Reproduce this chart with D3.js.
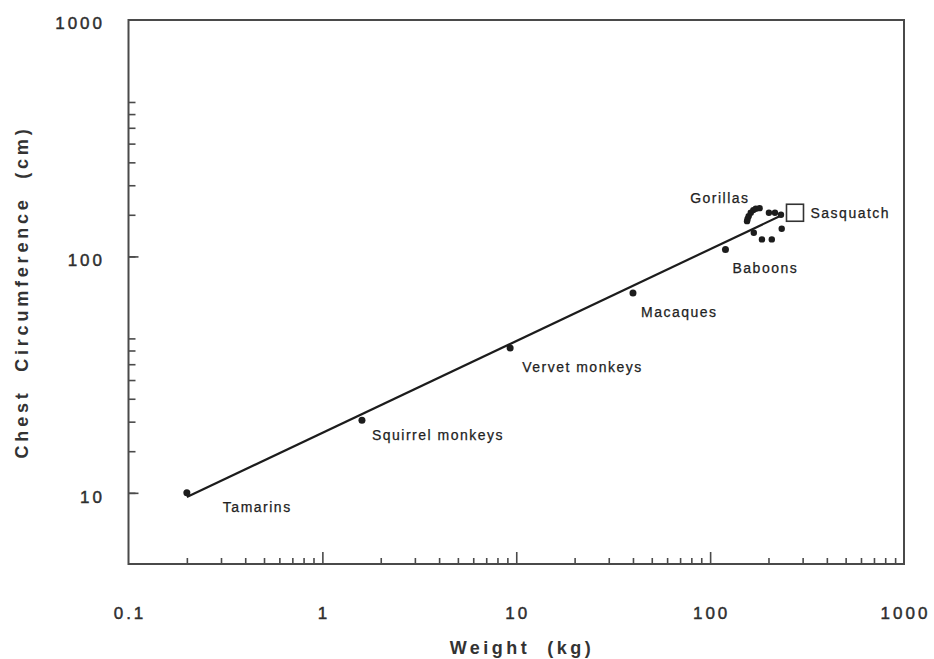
<!DOCTYPE html>
<html>
<head>
<meta charset="utf-8">
<script src="https://cdn.jsdelivr.net/npm/d3@7"></script>
<style>
  html, body { margin: 0; padding: 0; background: #fff; }
  svg { display: block; font-family: "Liberation Sans", Arial, Helvetica, sans-serif; }
</style>
</head>
<body>
<svg id="chart" width="934" height="659"></svg>
<script>
// Primate body weight (kg) vs. chest circumference (cm), log-log
const species = ["Tamarins", "Squirrel monkeys", "Vervet monkeys", "Macaques", "Baboons"];
const speciesWeight = [0.2, 1.6, 9.3, 40, 120];
const speciesChest = [10, 20.3, 41, 70, 107];

// individual gorilla measurements
const gorillaWeight = [155, 156, 158, 162, 167, 172, 180, 201, 216, 232, 234, 208, 185, 168];
const gorillaChest = [141, 144, 148, 153, 157, 159, 160, 153, 153, 150, 131, 118, 118, 126];

// estimated sasquatch
const sasquatchWeight = [274];
const sasquatchChest = [153];

// fitted allometric line (end points)
const fitWeight = [0.2, 237];
const fitChest = [9.6, 150];

const xTickValues = [0.1, 1, 10, 100, 1000];
const xTickLabels = ["0.1", "1", "10", "100", "1000"];
const yTickValues = [10, 100, 1000];
const yTickLabels = ["10", "100", "1000"];

// label placement relative to each point (px)
const speciesLabelOffset = [[36, 14], [10, 15], [12, 19], [8, 19], [7, 19]];

const svg = d3.select("#chart");
const plot = { left: 128.5, right: 904, top: 20, bottom: 564 };

const x = d3.scaleLog().domain([0.1, 1000]).range([plot.left, plot.right]);
const y = d3.scaleLog().domain([5, 1000]).range([plot.bottom, plot.top]);

const axisColor = "#4a4a4a";
const ink = "#1c1c1c";

// minor ticks for each decade
function minorTicks(lo, hi) {
  const out = [];
  for (let d = lo; d < hi; d *= 10) {
    for (let k = 2; k <= 9; k++) {
      const v = d * k;
      if (v > lo && v < hi) out.push(v);
    }
  }
  return out;
}

// bottom axis: ticks point inward (up)
const xAxisMinor = d3.axisBottom(x).tickValues(minorTicks(0.1, 1000).filter(v => v >= 0.2))
  .tickSizeInner(-6).tickSizeOuter(0).tickFormat("");
const xAxisMajor = d3.axisBottom(x).tickValues([1, 10, 100])
  .tickSizeInner(-12).tickSizeOuter(0).tickFormat("");

const gx1 = svg.append("g").attr("transform", `translate(0,${plot.bottom})`).call(xAxisMinor);
const gx2 = svg.append("g").attr("transform", `translate(0,${plot.bottom})`).call(xAxisMajor);

// left axis: ticks point inward (right)
const yAxisMinor = d3.axisLeft(y).tickValues(minorTicks(5, 1000).filter(v => v >= 6))
  .tickSizeInner(-7).tickSizeOuter(0).tickFormat("");
const yAxisMajor = d3.axisLeft(y).tickValues([10, 100])
  .tickSizeInner(-10).tickSizeOuter(0).tickFormat("");

const gy1 = svg.append("g").attr("transform", `translate(${plot.left},0)`).call(yAxisMinor);
const gy2 = svg.append("g").attr("transform", `translate(${plot.left},0)`).call(yAxisMajor);

[gx1, gx2, gy1, gy2].forEach(g => {
  g.select(".domain").remove();
  g.selectAll(".tick line").attr("stroke", axisColor).attr("stroke-width", 1.6);
});

// plot frame
svg.append("rect")
  .attr("x", plot.left).attr("y", plot.top)
  .attr("width", plot.right - plot.left).attr("height", plot.bottom - plot.top)
  .attr("fill", "none").attr("stroke", axisColor).attr("stroke-width", 2);

// tick labels
const tickFont = 17, tickSpacing = 3;
const tickStyle = (sel) => sel
  .attr("font-size", tickFont)
  .attr("letter-spacing", tickSpacing)
  .attr("fill", "#2e2e2e")
  .attr("stroke", "#2e2e2e")
  .attr("stroke-width", 0.45);

svg.append("g").selectAll("text")
  .data(xTickValues)
  .join("text")
  .attr("x", (d) => x(d) + tickSpacing / 2)
  .attr("y", 613)
  .attr("dy", "0.35em")
  .attr("text-anchor", "middle")
  .call(tickStyle)
  .text((d, i) => xTickLabels[i]);

svg.append("g").selectAll("text")
  .data(yTickValues)
  .join("text")
  .attr("x", 102 + tickSpacing)
  .attr("y", (d) => y(d) + (d === 1000 ? 3 : 4))
  .attr("dy", "0.35em")
  .attr("text-anchor", "end")
  .call(tickStyle)
  .text((d, i) => yTickLabels[i]);

// axis titles
svg.append("text")
  .attr("x", 520 + 2).attr("y", 648).attr("dy", "0.35em")
  .attr("text-anchor", "middle")
  .attr("font-size", 18).attr("font-weight", "bold")
  .attr("letter-spacing", 3.5)
  .attr("fill", "#333")
  .attr("xml:space", "preserve")
  .text("Weight  (kg)");

svg.append("text")
  .attr("transform", "translate(22,294) rotate(-90)")
  .attr("x", 2).attr("dy", "0.35em")
  .attr("text-anchor", "middle")
  .attr("font-size", 18).attr("font-weight", "bold")
  .attr("letter-spacing", 3.8)
  .attr("fill", "#333")
  .attr("xml:space", "preserve")
  .text("Chest  Circumference  (cm)");

// fitted line
const line = d3.line().x(d => x(d[0])).y(d => y(d[1]));
svg.append("path")
  .datum(d3.zip(fitWeight, fitChest))
  .attr("d", line)
  .attr("fill", "none")
  .attr("stroke", ink)
  .attr("stroke-width", 2.2);

// species means
svg.append("g").selectAll("circle")
  .data(d3.zip(speciesWeight, speciesChest))
  .join("circle")
  .attr("cx", d => x(d[0]))
  .attr("cy", d => y(d[1]))
  .attr("r", 3.5)
  .attr("fill", ink);

// gorillas
svg.append("g").selectAll("circle")
  .data(d3.zip(gorillaWeight, gorillaChest))
  .join("circle")
  .attr("cx", d => x(d[0]))
  .attr("cy", d => y(d[1]))
  .attr("r", 3.2)
  .attr("fill", ink);

// sasquatch: open square
const sq = 17;
svg.append("g").selectAll("rect")
  .data(d3.zip(sasquatchWeight, sasquatchChest))
  .join("rect")
  .attr("x", d => x(d[0]) - sq / 2)
  .attr("y", d => y(d[1]) - sq / 2)
  .attr("width", sq).attr("height", sq)
  .attr("fill", "#fff")
  .attr("stroke", "#333")
  .attr("stroke-width", 1.6);

// point labels
const labelFont = 14, labelSpacing = 1.5;
const labels = svg.append("g")
  .attr("font-size", labelFont)
  .attr("letter-spacing", labelSpacing)
  .attr("fill", "#222")
  .attr("stroke", "#222")
  .attr("stroke-width", 0.25);

labels.selectAll("text.species")
  .data(species)
  .join("text")
  .attr("class", "species")
  .attr("x", (d, i) => x(speciesWeight[i]) + speciesLabelOffset[i][0])
  .attr("y", (d, i) => y(speciesChest[i]) + speciesLabelOffset[i][1])
  .attr("dy", "0.35em")
  .text(d => d);

const gTop = d3.greatestIndex(gorillaChest);
labels.append("text")
  .attr("x", x(gorillaWeight[gTop]) - 10)
  .attr("y", y(gorillaChest[gTop]) - 10)
  .attr("dy", "0.35em")
  .attr("text-anchor", "end")
  .text("Gorillas");

labels.append("text")
  .attr("x", x(sasquatchWeight[0]) + sq / 2 + 7)
  .attr("y", y(sasquatchChest[0]))
  .attr("dy", "0.35em")
  .text("Sasquatch");
</script>
</body>
</html>
